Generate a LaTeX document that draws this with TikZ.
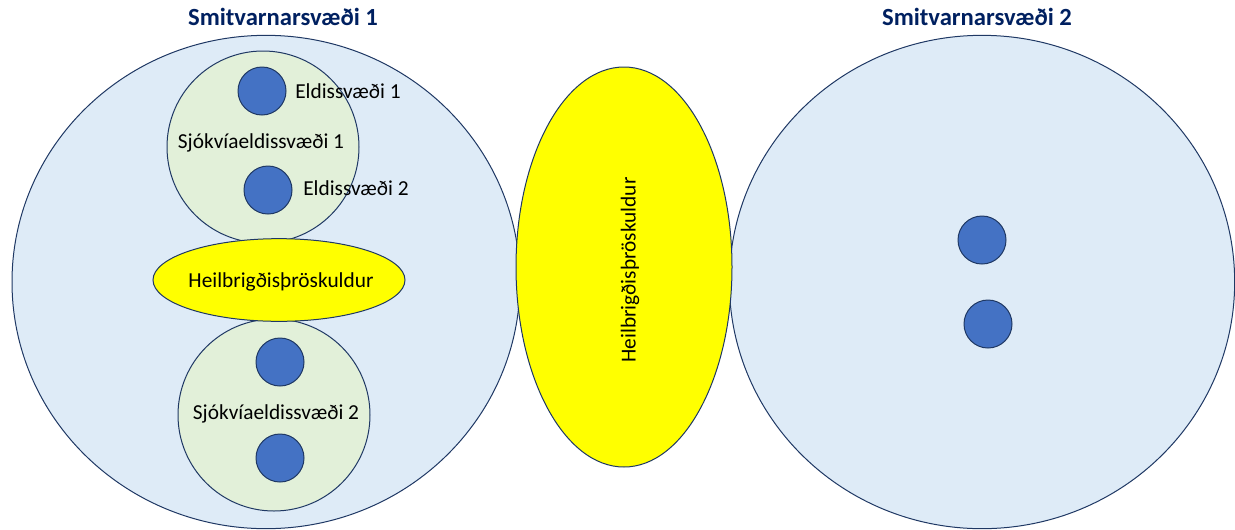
\documentclass[tikz,border=0pt]{standalone}
\usepackage{fontspec}
\setmainfont{Carlito}
\usepackage{xcolor}
\usetikzlibrary{shapes.geometric}

\definecolor{zoneblue}{HTML}{DEEBF7}
\definecolor{farmgreen}{HTML}{E2F0D9}
\definecolor{dotblue}{HTML}{4472C4}
\definecolor{edgenavy}{HTML}{1F3864}
\definecolor{titlenavy}{HTML}{002060}
\definecolor{barrieryellow}{HTML}{FFFF00}

\tikzset{
  outline/.style={draw=edgenavy, line width=0.75pt, inner sep=0pt},
  zone/.style={outline, ellipse, fill=zoneblue},
  farm/.style={outline, circle, fill=farmgreen, minimum size=144pt},
  barrier/.style={outline, ellipse, fill=barrieryellow},
  pen/.style={outline, circle, fill=dotblue, minimum size=36pt},
  zonetitle/.style={font=\bfseries\fontsize{18.5}{20}\selectfont, text=titlenavy},
  lbl/.style={font=\fontsize{16}{18}\selectfont}
}

\begin{document}
\begin{tikzpicture}[x=0.75pt, y=-0.75pt]
    \useasboundingbox (0,0) rectangle (1235,529);

    % Infection control zones
    \node[zone, minimum width=381pt, minimum height=370pt] (zone1) at (266,282) {};
    \node[zone, minimum width=379pt, minimum height=370pt] (zone2) at (982,282) {};
    \node[zonetitle] (title1) at (283,17) {Smitvarnarsvæði 1};
    \node[zonetitle] (title2) at (977,17) {Smitvarnarsvæði 2};

    % Barrier between the zones
    \node[barrier, minimum width=162pt, minimum height=300pt] (barrier2) at (624,267) {};
    \node[lbl, rotate=90] (barrier2text) at (630,270) {Heilbrigðisþröskuldur};

    % Sea farming areas in zone 1
    \node[farm] (farm1) at (263,147) {};
    \node[farm] (farm2) at (274,415) {};
    \node[barrier, minimum width=189pt, minimum height=62pt] (barrier1) at (279,280) {};
    \node[lbl] (barrier1text) at (281,282) {Heilbrigðisþröskuldur};

    \node[lbl] (farm1text) at (261,143) {Sjókvíaeldissvæði 1};
    \node[lbl] (farm2text) at (276,414) {Sjókvíaeldissvæði 2};

    % Farming sites
    \node[pen] (site1) at (262,91) {};
    \node[pen] (site2) at (268,190) {};
    \node[pen] (site3) at (280,362) {};
    \node[pen] (site4) at (280,458) {};
    \node[pen] (site5) at (982,240) {};
    \node[pen] (site6) at (988,324) {};

    \node[lbl] (site1text) at (348,91) {Eldissvæði 1};
    \node[lbl] (site2text) at (356,188) {Eldissvæði 2};
\end{tikzpicture}
\end{document}
